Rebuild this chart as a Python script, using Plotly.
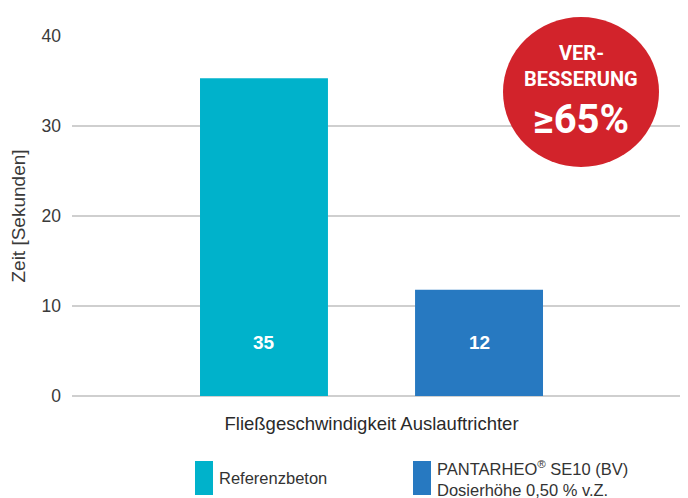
import plotly.graph_objects as go

category = ["Fließgeschwindigkeit Auslauftrichter"]
series_names = ["Referenzbeton", "PANTARHEO<sup>®</sup> SE10 (BV)<br>Dosierhöhe 0,50 % v.Z."]
series_values = [35.3, 11.8]
value_labels = ["35", "12"]
colors = ["#00b2cb", "#2779c1"]
y_ticks = [0, 10, 20, 30, 40]
badge_lines = ["VER-", "BESSERUNG", "≥65%"]

fig = go.Figure()
for name, val, col in zip(series_names, series_values, colors):
    fig.add_trace(go.Bar(x=category, y=[val], name=name, marker=dict(color=col, line=dict(width=0)),
                         showlegend=False, hoverinfo="y"))

font_main = "Liberation Sans, Arial, sans-serif"
# page has an 8px body margin: figure pixel = page pixel - 8
OFF = 8
PL, PT, PW, PH = 72 - OFF, 36 - OFF, 608, 360  # plot area in figure pixels

fig.update_layout(
    width=680, height=490,
    margin=dict(l=PL, r=680 - PL - PW, t=PT, b=490 - PT - PH, autoexpand=False),
    paper_bgcolor="white", plot_bgcolor="white",
    barmode="group", bargap=0.282, bargroupgap=0.405,
    font=dict(family=font_main, color="#3a3a3a", size=16),
    xaxis=dict(range=[-0.5, 0.515], showgrid=False, showline=False, ticks="", automargin=False,
               tickfont=dict(size=18.5, color="#2a2a2a"), ticklabelstandoff=14, fixedrange=True),
    yaxis=dict(range=[0, 40], tickvals=y_ticks, showgrid=True, gridcolor="#cfcfcf", gridwidth=1.5,
               zeroline=True, zerolinecolor="#cfcfcf", zerolinewidth=1.5, showline=False, automargin=False,
               ticks="", tickfont=dict(size=17.5, color="#3a3a3a"), ticklabelstandoff=10,
               title=dict(text="Zeit [Sekunden]", font=dict(size=19, color="#3a3a3a"), standoff=13)),
)

def px(xp):
    return (xp - 72) / PW

def py(yp):
    return (396 - yp) / PH

# value labels near the base of each bar
for lab, sh in zip(value_labels, [-107.5, 107.5]):
    fig.add_annotation(x=category[0], y=5.9, text=f"<b>{lab}</b>", showarrow=False, xshift=sh,
                       font=dict(size=19, color="white", family=font_main))

# legend drawn manually (tall swatches)
leg_x_px = [195, 413]
for col, name, lx in zip(colors, series_names, leg_x_px):
    fig.add_shape(type="rect", xref="paper", yref="paper",
                  xsizemode="pixel", ysizemode="pixel",
                  xanchor=px(lx), yanchor=py(478),
                  x0=0, x1=18, y0=-17, y1=17, fillcolor=col, line=dict(width=0))
    fig.add_annotation(xref="paper", yref="paper", x=px(lx + 22), y=py(478),
                       text=name, showarrow=False, xanchor="left", yanchor="middle", align="left",
                       font=dict(size=16.5, color="#333333", family=font_main))

# red badge
bx, by = px(581), py(92)
fig.add_shape(type="circle", xref="paper", yref="paper", xsizemode="pixel", ysizemode="pixel",
              xanchor=bx, yanchor=by, x0=-78, x1=78, y0=-75, y1=75,
              fillcolor="#d2232b", line=dict(width=0), layer="above")
badge_font = "Roboto, sans-serif"
for txt, ypx, sz in zip(badge_lines, [53, 79, 120], [20, 20, 40]):
    fig.add_annotation(xref="paper", yref="paper", x=bx, y=py(ypx), text=f"<b>{txt}</b>",
                       showarrow=False, xanchor="center", yanchor="middle",
                       font=dict(size=sz, color="white", family=badge_font))

fig.write_html("out.html")
